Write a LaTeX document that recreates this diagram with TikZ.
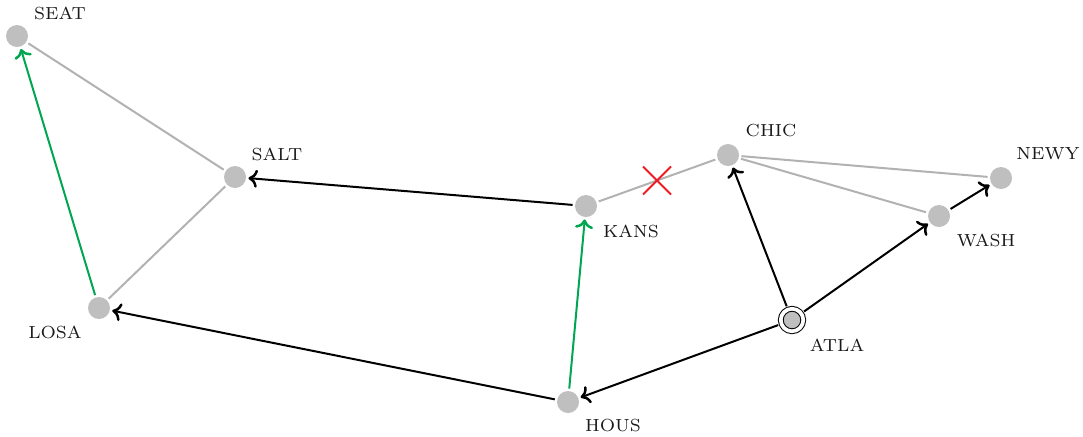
\documentclass[tikz,border=0pt]{standalone}
\usetikzlibrary{arrows.meta,shapes.misc}
\definecolor{routegreen}{RGB}{0,166,81}
\definecolor{xred}{RGB}{237,28,36}
\begin{document}
\begin{tikzpicture}[x=0.4pt,y=-0.4pt,
  city/.style={circle,fill=gray!50,inner sep=0pt,minimum size=8.8pt,outer sep=1pt},
  hub/.style={circle,fill=gray!50,draw=black,line width=0.4pt,double=white,double distance=1.5pt,inner sep=0pt,minimum size=9pt,outer sep=1.4pt},
  lbl/.style={font=\scriptsize,text=black!90,inner sep=0pt},
  link/.style={draw=gray!60,thick},
  flow/.style={draw=black,thick,-{Computer Modern Rightarrow[length=3.6pt,width=7.2pt,line width=1pt]}},
  gflow/.style={draw=routegreen,thick,-{Computer Modern Rightarrow[length=3.6pt,width=7.2pt,line width=1pt]}},
  cut/.style={cross out,draw=xred,thick,minimum size=10.4pt,inner sep=0pt}]
\useasboundingbox (0,0) rectangle (1083,436);
\node[city] (SEAT) at (17,36) {};
\node[city] (SALT) at (235,177) {};
\node[city] (LOSA) at (99,308) {};
\node[city] (KANS) at (586,206) {};
\node[city] (HOUS) at (568,402) {};
\node[city] (CHIC) at (728,155) {};
\node[city] (NEWY) at (1001,178) {};
\node[city] (WASH) at (939,216) {};
\node[hub]  (ATLA) at (792,320) {};
\node[lbl] (lSEAT) at (60,13) {SEAT};
\node[lbl] (lSALT) at (277,154) {SALT};
\node[lbl] (lLOSA) at (55,332) {LOSA};
\node[lbl] (lKANS) at (631,231) {KANS};
\node[lbl] (lHOUS) at (613,426) {HOUS};
\node[lbl] (lCHIC) at (771,131) {CHIC};
\node[lbl] (lNEWY) at (1048,154) {NEWY};
\node[lbl] (lWASH) at (986,240) {WASH};
\node[lbl] (lATLA) at (837,345) {ATLA};
\draw[link] (SEAT) -- (SALT);
\draw[link] (SALT) -- (LOSA);
\draw[link] (KANS) -- node[cut] (X) {} (CHIC);
\draw[link] (CHIC) -- (NEWY);
\draw[link] (CHIC) -- (WASH);
\draw[flow] (KANS) -- (SALT);
\draw[flow] (HOUS) -- (LOSA);
\draw[flow] (ATLA) -- (HOUS);
\draw[flow] (ATLA) -- (CHIC);
\draw[flow] (ATLA) -- (WASH);
\draw[flow] (WASH) -- (NEWY);
\draw[gflow] (LOSA) -- (SEAT);
\draw[gflow] (HOUS) -- (KANS);
\end{tikzpicture}
\end{document}
